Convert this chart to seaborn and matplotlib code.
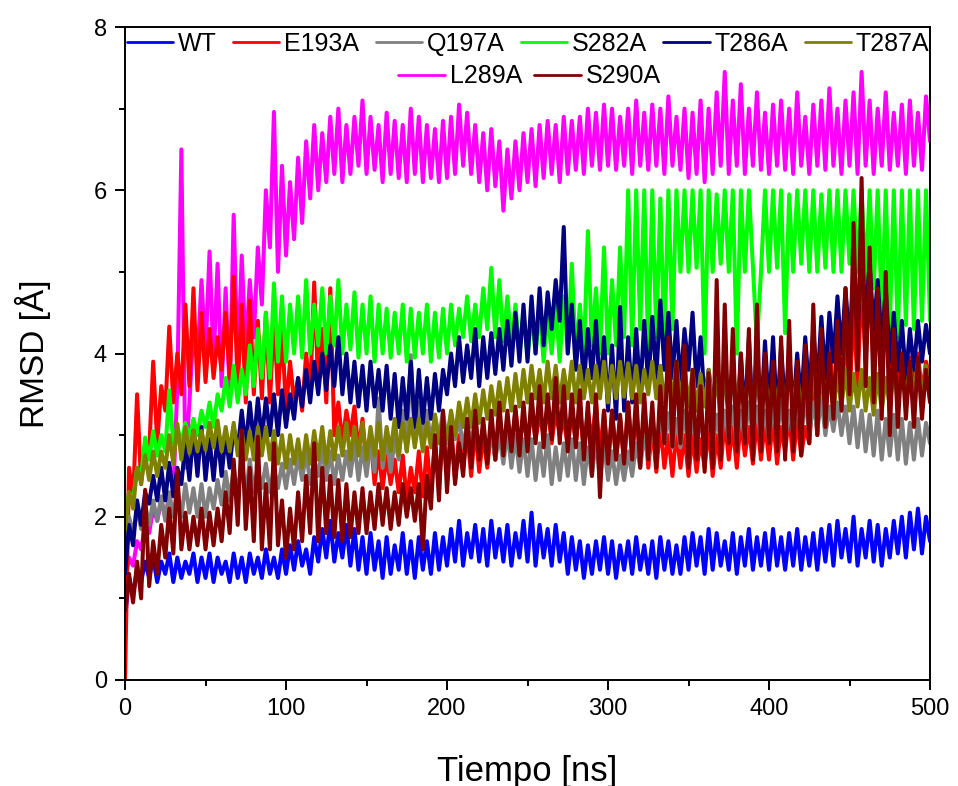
import numpy as np
import pandas as pd
import matplotlib
matplotlib.use("Agg")
import matplotlib.pyplot as plt
import seaborn as sns

# Simulation time axis (ns), one sample every 2.5 ns
time_ns = np.arange(0, 500.01, 2.5)

variants = ["WT", "E193A", "Q197A", "S282A", "T286A", "T287A", "L289A", "S290A"]
colors = ["#0000FF", "#FF0000", "#808080", "#00FF00", "#000080", "#808000", "#FF00FF", "#800000"]
# order in which the traces are stacked (first = bottom)
draw_order = ["L289A", "WT", "E193A", "Q197A", "S282A", "T286A", "T287A", "S290A"]

# RMSD traces (Å)
rmsd_wt = [
    0.75, 1.25, 1.05, 1.35, 1.2, 1.45, 1.25, 1.5, 1.2, 1.45, 1.3, 1.55, 1.2, 1.5, 1.25, 1.45, 1.3, 1.55, 1.2, 1.5,
    1.25, 1.55, 1.2, 1.5, 1.3, 1.45, 1.2, 1.55, 1.25, 1.5, 1.2, 1.55, 1.3, 1.5, 1.25, 1.6, 1.3, 1.5, 1.25, 1.6,
    1.3, 1.65, 1.35, 1.7, 1.4, 1.6, 1.3, 1.75, 1.45, 1.85, 1.5, 1.95, 1.45, 1.8, 1.5, 1.9, 1.4, 1.85, 1.35, 1.75,
    1.3, 1.8, 1.35, 1.7, 1.25, 1.75, 1.3, 1.65, 1.35, 1.8, 1.3, 1.7, 1.25, 1.75, 1.35, 1.7, 1.3, 1.8, 1.35, 1.75,
    1.4, 1.85, 1.45, 1.95, 1.4, 1.8, 1.5, 1.9, 1.45, 1.85, 1.4, 1.95, 1.5, 1.85, 1.45, 1.9, 1.4, 1.8, 1.5, 1.95,
    1.45, 2.05, 1.4, 1.9, 1.5, 1.85, 1.4, 1.9, 1.45, 1.8, 1.3, 1.75, 1.35, 1.7, 1.25, 1.65, 1.3, 1.7, 1.35, 1.75,
    1.3, 1.7, 1.25, 1.65, 1.35, 1.7, 1.3, 1.75, 1.35, 1.65, 1.3, 1.7, 1.25, 1.75, 1.35, 1.7, 1.3, 1.65, 1.3, 1.75,
    1.35, 1.8, 1.4, 1.75, 1.3, 1.85, 1.35, 1.8, 1.4, 1.7, 1.35, 1.8, 1.3, 1.75, 1.4, 1.85, 1.35, 1.75, 1.4, 1.8,
    1.35, 1.85, 1.4, 1.75, 1.35, 1.8, 1.4, 1.85, 1.35, 1.75, 1.4, 1.8, 1.35, 1.85, 1.45, 1.9, 1.4, 1.95, 1.5, 1.85,
    1.45, 2.0, 1.4, 1.85, 1.5, 1.95, 1.45, 1.9, 1.4, 1.85, 1.5, 1.95, 1.55, 2.0, 1.5, 2.05, 1.6, 2.1, 1.55, 2.0,
    1.7,
]
rmsd_e193a = [
    0.0, 2.6, 2.2, 3.5, 2.4, 2.9, 2.8, 3.9, 2.9, 3.6, 3.3, 4.33, 3.4, 4.0, 3.5, 4.6, 3.6, 4.8, 3.55, 4.5,
    3.65, 4.3, 3.7, 4.2, 3.8, 4.5, 3.7, 4.94, 3.6, 4.6, 3.4, 4.65, 3.5, 4.4, 3.45, 4.5, 3.4, 4.45, 3.5, 4.3,
    3.3, 3.9, 3.4, 3.7, 3.3, 4.0, 3.5, 4.87, 3.6, 4.3, 3.4, 4.8, 3.0, 3.4, 2.9, 3.3, 3.0, 3.35, 2.8, 3.2,
    2.6, 3.0, 2.4, 2.8, 2.35, 2.75, 2.4, 2.7, 2.3, 2.75, 2.2, 2.6, 2.3, 2.8, 2.25, 2.85, 2.3, 2.9, 2.4, 3.0,
    2.5, 3.1, 2.45, 3.0, 2.6, 3.05, 2.5, 3.1, 2.55, 3.0, 2.6, 3.1, 2.7, 3.2, 2.8, 3.15, 2.85, 3.3, 2.9, 3.2,
    2.9, 3.3, 2.95, 3.25, 3.0, 3.35, 2.9, 3.3, 3.0, 3.2, 2.85, 3.3, 2.9, 3.35, 2.8, 3.3, 2.9, 3.4, 2.75, 3.3,
    2.6, 3.3, 2.7, 3.2, 2.65, 3.4, 2.75, 3.3, 2.7, 3.25, 2.6, 3.1, 2.55, 3.15, 2.6, 3.0, 2.5, 3.05, 2.6, 3.0,
    2.5, 3.0, 2.55, 2.95, 2.6, 3.1, 2.5, 3.0, 2.6, 3.2, 2.7, 3.1, 2.6, 3.2, 2.75, 3.1, 2.65, 3.2, 2.7, 3.15,
    2.7, 3.2, 2.65, 3.1, 2.8, 3.25, 2.7, 3.2, 2.75, 3.1, 2.9, 3.6, 3.0, 4.0, 3.1, 4.3, 3.2, 4.1, 3.3, 4.4,
    3.4, 4.6, 3.6, 4.9, 3.9, 5.0, 3.8, 4.8, 3.7, 4.6, 3.8, 4.3, 3.6, 4.0, 3.5, 3.95, 3.6, 4.0, 3.5, 3.9,
    3.7,
]
rmsd_q197a = [
    1.7, 2.0, 1.8, 2.1, 1.85, 2.15, 1.9, 2.2, 1.95, 2.25, 1.95, 2.3, 2.0, 2.35, 2.0, 2.4, 2.05, 2.35, 2.0, 2.4,
    2.0, 2.35, 2.1, 2.45, 2.15, 2.55, 2.2, 2.6, 2.3, 2.65, 2.25, 2.7, 2.3, 2.6, 2.35, 2.65, 2.3, 2.6, 2.35, 2.65,
    2.35, 2.7, 2.4, 2.75, 2.45, 2.8, 2.4, 2.7, 2.5, 2.85, 2.45, 2.8, 2.4, 2.75, 2.45, 2.8, 2.5, 2.9, 2.45, 2.85,
    2.5, 2.9, 2.55, 3.45, 2.6, 3.0, 2.55, 2.95, 2.7, 3.3, 2.8, 3.98, 2.9, 3.4, 2.95, 3.3, 2.9, 3.25, 2.95, 3.3,
    2.9, 3.25, 2.95, 3.2, 2.85, 3.15, 2.9, 3.2, 2.8, 3.1, 2.75, 3.05, 2.7, 3.0, 2.65, 3.05, 2.6, 3.0, 2.55, 2.95,
    2.5, 2.95, 2.45, 2.9, 2.5, 3.0, 2.4, 2.85, 2.45, 2.9, 2.5, 2.95, 2.45, 2.9, 2.4, 2.85, 2.5, 2.95, 2.45, 2.9,
    2.45, 2.8, 2.4, 2.75, 2.45, 2.8, 2.5, 2.9, 2.6, 3.0, 2.7, 3.1, 2.8, 3.25, 2.9, 3.27, 2.85, 3.2, 2.85, 3.3,
    2.8, 3.25, 2.85, 3.2, 2.9, 3.3, 2.85, 3.25, 2.9, 3.3, 2.95, 3.35, 2.9, 3.3, 2.95, 3.4, 3.0, 3.35, 2.95, 3.3,
    2.95, 3.35, 3.0, 3.4, 2.95, 3.3, 3.0, 3.4, 3.05, 3.45, 3.0, 3.4, 3.05, 3.45, 3.0, 3.35, 3.05, 3.4, 3.0, 3.35,
    2.9, 3.35, 2.85, 3.3, 2.8, 3.25, 2.75, 3.3, 2.7, 3.2, 2.75, 3.25, 2.7, 3.2, 2.65, 3.15, 2.7, 3.2, 2.75, 3.15,
    2.9,
]
rmsd_s282a = [
    1.9, 2.3, 2.2, 2.6, 2.5, 2.97, 2.7, 3.05, 2.75, 3.0, 2.8, 3.55, 2.9, 3.1, 2.9, 3.15, 2.95, 3.2, 3.0, 3.3,
    3.1, 3.4, 3.1, 3.5, 3.3, 3.7, 3.35, 3.85, 3.4, 3.8, 3.5, 4.1, 3.6, 4.3, 3.7, 4.5, 3.7, 4.86, 3.9, 4.7,
    3.9, 4.6, 4.0, 4.7, 3.95, 4.9, 4.0, 4.6, 4.1, 4.8, 4.0, 4.7, 4.1, 4.9, 4.0, 4.6, 4.05, 4.75, 3.95, 4.6,
    4.0, 4.7, 3.9, 4.6, 4.0, 4.55, 3.95, 4.5, 4.0, 4.6, 3.9, 4.55, 3.95, 4.5, 4.0, 4.6, 3.9, 4.5, 3.95, 4.55,
    4.0, 4.6, 4.1, 4.55, 4.2, 4.7, 4.15, 4.6, 4.2, 4.8, 4.3, 5.05, 4.2, 4.9, 4.15, 4.7, 4.1, 4.6, 4.0, 4.5,
    3.95, 4.5, 4.0, 4.55, 3.9, 4.5, 4.0, 4.6, 3.9, 4.7, 4.0, 5.1, 3.95, 4.6, 4.0, 5.5, 4.1, 4.8, 4.0, 5.3,
    4.0, 4.9, 4.1, 5.3, 4.2, 6.0, 4.1, 6.0, 4.3, 6.0, 4.0, 6.0, 4.2, 5.9, 4.1, 6.0, 4.3, 6.0, 5.0, 6.0,
    5.0, 6.0, 5.05, 6.0, 4.0, 6.0, 5.0, 5.95, 5.1, 6.0, 5.0, 6.0, 4.0, 6.0, 5.0, 6.0, 5.05, 4.12, 5.0, 6.0,
    5.0, 6.0, 5.05, 6.0, 4.25, 5.95, 5.0, 6.0, 5.1, 6.0, 5.0, 6.0, 5.0, 5.95, 5.05, 6.0, 5.0, 6.0, 5.0, 6.0,
    5.1, 6.0, 5.0, 6.0, 4.9, 6.0, 4.8, 6.0, 4.5, 6.0, 4.3, 6.0, 4.2, 6.0, 4.35, 6.0, 4.3, 6.0, 4.4, 6.0,
    4.4,
]
rmsd_t286a = [
    1.3, 1.9, 1.65, 2.2, 1.9, 2.3, 2.16, 2.5, 2.2, 2.6, 2.2, 2.66, 2.25, 2.6, 2.4, 2.9, 2.45, 3.05, 2.5, 3.1,
    2.45, 2.95, 2.45, 3.0, 2.5, 3.0, 2.6, 3.1, 2.82, 3.3, 2.85, 3.4, 2.9, 3.45, 2.95, 3.45, 3.0, 3.5, 3.0, 3.55,
    3.1, 3.5, 3.2, 3.7, 3.35, 3.8, 3.4, 3.9, 3.5, 4.0, 3.55, 4.1, 3.6, 4.2, 3.5, 4.0, 3.4, 3.9, 3.35, 3.85,
    3.3, 3.9, 3.35, 3.8, 3.3, 3.85, 3.2, 3.75, 3.1, 3.7, 3.2, 3.9, 3.1, 3.8, 3.15, 3.7, 3.2, 3.75, 3.3, 3.8,
    3.5, 4.0, 3.6, 4.2, 3.65, 4.1, 3.7, 4.3, 3.6, 4.2, 3.7, 4.25, 3.75, 4.3, 3.8, 4.4, 3.85, 4.5, 3.9, 4.6,
    3.9, 4.7, 4.0, 4.8, 4.1, 4.75, 4.3, 4.9, 4.4, 5.55, 4.0, 4.6, 3.8, 4.4, 3.6, 4.3, 3.7, 4.4, 3.5, 4.2,
    3.3, 4.1, 3.2, 4.57, 3.3, 4.2, 3.4, 4.3, 3.5, 4.4, 3.6, 4.45, 3.7, 4.65, 3.8, 4.5, 3.7, 4.4, 3.6, 4.3,
    3.8, 4.5, 3.6, 4.2, 3.4, 3.8, 3.35, 3.75, 3.3, 3.8, 3.2, 3.9, 3.1, 4.0, 3.2, 4.2, 3.1, 4.1, 3.2, 4.15,
    3.3, 4.2, 3.2, 4.1, 3.3, 4.0, 3.3, 4.0, 3.4, 4.2, 3.5, 4.3, 3.6, 4.45, 3.7, 4.5, 3.9, 4.7, 4.0, 4.8,
    4.1, 5.0, 4.3, 5.2, 4.5, 5.1, 4.3, 4.9, 4.1, 4.8, 3.9, 4.5, 3.8, 4.4, 3.7, 4.3, 3.8, 4.4, 3.9, 4.35,
    4.0,
]
rmsd_t287a = [
    1.84, 2.3, 2.1, 2.6, 2.41, 2.75, 2.45, 2.8, 2.5, 2.8, 2.6, 3.0, 2.65, 3.14, 2.7, 3.1, 2.78, 3.06, 2.8, 3.05,
    2.82, 3.15, 2.85, 3.18, 2.8, 3.1, 2.8, 3.15, 2.75, 3.05, 2.7, 3.05, 2.7, 3.1, 2.75, 3.1, 2.7, 3.05, 2.65, 3.0,
    2.6, 3.0, 2.65, 2.95, 2.6, 3.0, 2.65, 3.05, 2.7, 3.1, 2.65, 3.05, 2.7, 3.1, 2.75, 3.15, 2.7, 3.1, 2.75, 3.15,
    2.7, 3.1, 2.75, 3.15, 2.7, 3.1, 2.8, 3.2, 2.75, 3.15, 2.8, 3.2, 2.85, 3.2, 2.8, 3.15, 2.85, 3.25, 2.9, 3.2,
    2.95, 3.3, 3.0, 3.4, 3.1, 3.45, 3.1, 3.5, 3.15, 3.55, 3.2, 3.6, 3.25, 3.65, 3.3, 3.7, 3.3, 3.75, 3.35, 3.8,
    3.4, 3.85, 3.45, 3.8, 3.4, 3.9, 3.45, 3.85, 3.4, 3.8, 3.45, 3.9, 3.4, 3.85, 3.45, 3.8, 3.4, 3.85, 3.45, 3.9,
    3.4, 3.85, 3.45, 3.9, 3.47, 3.88, 3.45, 3.85, 3.4, 3.8, 3.5, 3.9, 3.45, 3.85, 3.4, 3.8, 3.45, 3.9, 3.4, 3.85,
    3.35, 3.8, 3.3, 3.75, 3.35, 3.8, 3.3, 3.7, 3.25, 3.75, 3.3, 3.8, 3.35, 3.75, 3.3, 3.8, 3.35, 3.7, 3.3, 3.75,
    3.3, 3.7, 3.35, 3.75, 3.3, 3.8, 3.35, 3.75, 3.3, 3.7, 3.35, 3.8, 3.3, 3.75, 3.35, 3.7, 3.3, 3.75, 3.35, 3.8,
    3.3, 3.75, 3.35, 3.8, 3.3, 3.7, 3.25, 3.75, 3.3, 3.7, 3.35, 3.8, 3.4, 3.75, 3.45, 3.85, 3.5, 3.9, 3.45, 3.85,
    3.6,
]
rmsd_l289a = [
    1.2, 1.5, 1.4, 1.7, 1.6, 1.9, 1.8, 2.1, 1.95, 2.2, 2.0, 2.25, 2.3, 3.6, 6.5, 2.6, 3.4, 4.3, 3.9, 4.9,
    4.0, 5.25, 3.9, 5.1, 3.6, 4.8, 3.5, 5.7, 3.8, 5.2, 4.0, 4.9, 4.2, 5.3, 4.6, 6.0, 5.3, 6.96, 5.0, 6.3,
    5.2, 6.1, 5.4, 6.4, 5.6, 6.6, 5.9, 6.8, 6.0, 6.7, 6.1, 6.9, 6.2, 7.0, 6.1, 6.8, 6.2, 6.9, 6.3, 7.1,
    6.2, 6.9, 6.25, 6.8, 6.1, 6.95, 6.2, 6.85, 6.15, 6.8, 6.1, 7.0, 6.2, 6.9, 6.1, 6.8, 6.15, 6.75, 6.1, 6.85,
    6.15, 6.9, 6.2, 7.05, 6.3, 6.95, 6.2, 6.8, 6.1, 6.7, 6.0, 6.75, 6.05, 6.6, 5.75, 6.5, 5.9, 6.6, 6.0, 6.7,
    6.1, 6.75, 6.05, 6.8, 6.15, 6.85, 6.2, 6.8, 6.1, 6.9, 6.2, 6.85, 6.25, 6.9, 6.2, 7.0, 6.3, 6.95, 6.25, 7.05,
    6.3, 7.0, 6.25, 6.9, 6.3, 7.0, 6.2, 7.1, 6.3, 6.95, 6.25, 7.05, 6.3, 7.0, 6.2, 7.15, 6.3, 6.9, 6.25, 7.0,
    6.15, 6.95, 6.2, 7.1, 6.1, 7.0, 6.2, 7.2, 6.3, 7.45, 6.2, 7.1, 6.3, 7.3, 6.2, 7.0, 6.3, 7.2, 6.25, 6.95,
    6.2, 7.05, 6.3, 7.1, 6.25, 7.0, 6.2, 7.2, 6.3, 6.9, 6.2, 7.05, 6.3, 7.1, 6.25, 7.25, 6.3, 7.0, 6.2, 7.1,
    6.3, 7.2, 6.2, 7.45, 6.3, 7.1, 6.2, 7.0, 6.3, 7.2, 6.25, 6.95, 6.3, 7.05, 6.2, 7.1, 6.3, 6.95, 6.25, 7.15,
    6.6,
]
rmsd_s290a = [
    0.85, 1.3, 0.95, 1.45, 1.0, 2.33, 1.15, 1.7, 1.3, 1.9, 1.5, 2.1, 1.55, 2.57, 1.6, 2.05, 1.6, 2.0, 1.65, 2.1,
    1.6, 2.05, 1.65, 2.1, 1.7, 2.3, 1.8, 2.7, 1.9, 3.06, 1.85, 2.6, 1.7, 2.98, 1.6, 2.4, 1.6, 2.9, 1.65, 2.2,
    1.5, 2.1, 1.6, 2.3, 1.7, 2.5, 1.8, 2.9, 1.7, 2.6, 1.8, 2.5, 1.75, 2.45, 1.7, 2.4, 1.75, 2.3, 1.8, 2.35,
    1.8, 2.3, 1.85, 2.4, 1.9, 2.35, 1.85, 2.3, 1.9, 2.4, 2.0, 2.35, 1.95, 2.4, 1.6, 2.5, 2.1, 3.0, 2.2, 3.3,
    2.3, 3.1, 2.4, 2.9, 2.5, 3.2, 2.6, 3.3, 2.7, 3.2, 2.65, 3.3, 2.7, 3.4, 2.75, 3.3, 2.8, 3.35, 2.75, 3.4,
    2.8, 3.5, 2.9, 3.6, 2.85, 3.5, 2.95, 3.7, 2.9, 3.6, 2.8, 3.5, 2.85, 3.55, 2.7, 3.4, 2.5, 3.5, 2.24, 3.3,
    2.65, 3.3, 2.7, 3.25, 2.65, 3.4, 2.7, 3.5, 2.6, 3.5, 2.7, 3.4, 2.6, 3.6, 2.9, 4.2, 2.86, 3.9, 2.9, 4.1,
    2.6, 3.8, 2.7, 3.6, 2.55, 3.76, 2.6, 4.9, 2.7, 4.6, 2.9, 4.3, 2.8, 4.0, 2.9, 4.3, 2.7, 4.6, 2.8, 4.0,
    2.9, 3.9, 2.8, 4.2, 2.7, 4.4, 2.8, 3.9, 2.75, 4.1, 2.9, 4.6, 3.0, 4.3, 3.1, 4.0, 3.2, 4.4, 3.3, 4.8,
    3.5, 5.6, 3.8, 6.15, 3.6, 5.3, 3.4, 4.8, 3.2, 5.0, 3.0, 4.3, 3.1, 4.0, 3.2, 3.9, 3.1, 3.95, 3.2, 3.8,
    3.4,
]

series = dict(zip(variants, [rmsd_wt, rmsd_e193a, rmsd_q197a, rmsd_s282a,
                             rmsd_t286a, rmsd_t287a, rmsd_l289a, rmsd_s290a]))
palette = dict(zip(variants, colors))

df = pd.concat(
    [pd.DataFrame({"Tiempo": time_ns, "RMSD": series[name], "Sistema": name})
     for name in draw_order],
    ignore_index=True,
)

sns.set_theme(style="ticks")
plt.rcParams["font.family"] = ["Liberation Sans", "DejaVu Sans"]
plt.rcParams.update({"text.color": "black", "axes.labelcolor": "black",
                     "xtick.color": "black", "ytick.color": "black"})

fig = plt.figure(figsize=(9.58, 7.86), dpi=100)
ax = fig.add_axes([0.1305, 0.1349, 0.8403, 0.8307])

sns.lineplot(data=df, x="Tiempo", y="RMSD", hue="Sistema",
             hue_order=draw_order, palette=palette, sort=False,
             estimator=None, errorbar=None, linewidth=2.9, ax=ax)

handles, labels = ax.get_legend_handles_labels()
ax.get_legend().remove()
by_label = dict(zip(labels, handles))
handles = [by_label[v] for v in variants]
for h in handles:
    h.set_linewidth(2.0)

leg_kw = dict(frameon=False, fontsize=18, handlelength=1.85,
              handletextpad=0.2, borderpad=0.0, borderaxespad=0.0,
              labelspacing=0.2)
leg1 = ax.legend(handles[:6], variants[:6], ncol=6, loc="upper left",
                 bbox_to_anchor=(0.002, 0.993), columnspacing=0.65, **leg_kw)
ax.add_artist(leg1)
ax.legend(handles[6:], variants[6:], ncol=2, loc="upper center",
          bbox_to_anchor=(0.5025, 0.943), columnspacing=0.5, **leg_kw)

ax.set_xlim(0, 500)
ax.set_ylim(0, 8)
ax.set_xticks([0, 100, 200, 300, 400, 500])
ax.set_xticks([50, 150, 250, 350, 450], minor=True)
ax.set_yticks([0, 2, 4, 6, 8])
ax.set_yticks([1, 3, 5, 7], minor=True)

for side in ["left", "right", "top", "bottom"]:
    ax.spines[side].set_visible(True)
    ax.spines[side].set_linewidth(1.4)
    ax.spines[side].set_color("black")

ax.tick_params(axis="both", which="major", direction="out", length=7,
               width=1.4, labelsize=17, colors="black", pad=6,
               top=False, right=False)
ax.tick_params(axis="both", which="minor", direction="out", length=4,
               width=1.4, top=False, right=False)

ax.set_xlabel("Tiempo [ns]", fontsize=25, labelpad=25)
ax.set_ylabel("RMSD [Å]", fontsize=24, labelpad=31)
ax.grid(False)

fig.savefig("out.png", dpi=100, facecolor="white")
